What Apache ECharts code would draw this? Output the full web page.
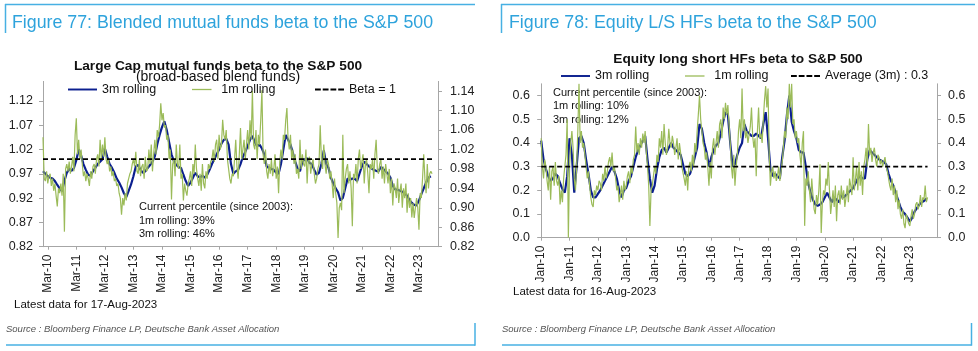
<!DOCTYPE html>
<html>
<head>
<meta charset="utf-8">
<script src="https://cdn.jsdelivr.net/npm/echarts@6/dist/echarts.min.js"></script>
<style>
  html, body { margin: 0; padding: 0; background: #fff; }
  #chart { width: 978px; height: 351px; }
</style>
</head>
<body>
<div id="chart"></div>
<script>
const FONT = '"Liberation Sans", Arial, sans-serif';

// Figure 77 - large cap mutual funds, month index 0 = Jan-2010
// 3m rolling, one value per month
const mf3m = [
  0.975, 0.97, 0.965, 0.962, 0.96, 0.955, 0.947, 0.94, 0.934, 0.955, 0.972, 0.98,
  0.976, 0.982, 0.998, 1.02, 1.008, 0.99, 0.978, 0.968, 0.966, 0.975, 0.982, 0.99,
  0.995, 1.0, 1.022, 1.005, 0.99, 0.982, 0.972, 0.96, 0.952, 0.942, 0.93, 0.922,
  0.935, 0.948, 0.965, 0.985, 0.988, 0.978, 0.972, 0.975, 0.982, 0.988, 0.995, 1.006,
  1.03, 1.05, 1.066, 1.078, 1.06, 1.035, 1.01, 0.996, 0.988, 0.984, 0.982, 0.968,
  0.955, 0.945, 0.952, 0.962, 0.972, 0.965, 0.962, 0.966, 0.962, 0.968, 0.978, 0.99,
  1.0, 1.01, 1.02, 1.032, 1.04, 1.042, 1.03, 0.99, 0.97, 0.975, 0.978, 0.99,
  1.005, 1.015, 1.027, 1.04, 1.048, 1.035, 1.027, 1.03, 1.022, 1.01, 0.985, 0.982,
  0.98, 0.978, 0.972, 0.97, 0.99, 1.02, 1.05, 1.04, 1.03, 1.013, 0.995, 0.98,
  0.975, 0.995, 1.0, 1.002, 0.992, 0.99, 0.978, 0.968, 0.972, 0.99, 1.018, 0.99,
  0.982, 0.962, 0.95, 0.94, 0.932, 0.915, 0.92, 0.94, 0.96, 0.958, 0.96, 0.96,
  0.955, 0.97, 0.985, 0.995, 0.99, 0.985, 0.981, 0.978, 0.976, 0.975, 0.984, 0.98,
  0.975, 0.97, 0.962, 0.945, 0.938, 0.937, 0.935, 0.933, 0.93, 0.925, 0.916, 0.91,
  0.906, 0.905, 0.915, 0.928, 0.94, 0.952, 0.962, 0.965
];
// 1m rolling, two values per month
const mf1m = [
  1.045, 0.96, 0.955, 0.975, 0.95, 0.965, 0.97, 0.945, 0.96, 0.935, 0.95, 0.925, 0.903, 0.94, 0.93, 0.95, 0.925, 0.97, 0.851, 0.98, 0.99, 0.975, 0.995, 0.97,
  0.985, 1.005, 0.975, 1.05, 1.084, 1.01, 1.04, 1.0, 1.02, 0.99, 0.965, 0.975, 0.955, 0.97, 0.96, 0.945, 0.975, 0.96, 0.985, 0.99, 0.97, 1.0, 1.01, 0.985,
  1.04, 1.0, 1.03, 1.005, 1.045, 1.0, 0.99, 1.0, 0.975, 0.985, 0.965, 0.975, 0.955, 0.96, 0.945, 0.95, 0.93, 0.92, 0.886, 0.92, 0.905, 0.93, 0.915, 0.95,
  0.96, 0.97, 0.975, 0.99, 1.0, 0.985, 1.015, 0.975, 0.97, 1.0, 0.965, 0.985, 0.99, 0.96, 1.005, 0.975, 0.98, 1.02, 0.99, 1.03, 0.975, 1.01, 1.04, 1.01,
  1.06, 1.045, 1.07, 1.115, 1.08, 1.095, 1.065, 1.07, 1.04, 1.05, 1.0, 1.02, 0.917, 0.99, 1.0, 0.965, 1.03, 0.99, 0.98, 1.03, 0.96, 0.97, 0.915, 0.95,
  0.935, 0.925, 0.95, 0.96, 0.975, 0.945, 0.99, 0.97, 1.03, 0.98, 0.96, 0.945, 0.97, 0.935, 0.99, 0.95, 0.94, 0.975, 0.96, 0.99, 0.98, 0.995, 1.0, 1.02,
  0.995, 1.03, 1.04, 1.0, 1.05, 1.02, 1.03, 1.081, 1.05, 1.04, 1.06, 1.0, 0.98, 0.96, 0.95, 0.97, 0.965, 1.0, 1.04, 0.985, 0.96, 1.01, 1.064, 1.0,
  1.02, 1.04, 1.0, 1.03, 1.06, 1.02, 1.08, 1.04, 1.14, 1.03, 1.02, 1.06, 1.0, 1.05, 1.03, 1.08, 1.142, 1.01, 0.99, 1.02, 0.975, 0.96, 0.99, 0.97,
  1.0, 0.965, 0.98, 1.01, 0.96, 0.985, 0.93, 0.995, 1.02, 1.0, 1.05, 1.04, 1.08, 1.105, 1.04, 1.02, 1.05, 1.0, 1.02, 0.99, 1.01, 0.97, 0.98, 0.96,
  1.04, 0.98, 1.01, 0.99, 0.985, 1.02, 0.95, 1.0, 1.005, 0.97, 0.99, 1.0, 0.97, 0.95, 0.96, 0.98, 0.99, 1.07, 1.0, 0.98, 1.03, 0.99, 0.97, 1.0,
  0.99, 0.96, 0.975, 0.95, 0.92, 0.96, 0.93, 0.91, 0.838, 0.9, 0.91, 0.895, 1.05, 0.93, 0.96, 0.98, 0.99, 0.95, 0.975, 0.94, 0.862, 0.97, 0.96, 0.99,
  0.95, 1.0, 1.02, 0.98, 0.995, 1.01, 0.95, 0.99, 1.0, 0.97, 0.93, 0.99, 0.98, 1.0, 0.96, 1.01, 1.04, 0.98, 0.97, 0.99, 1.0, 0.96, 0.985, 0.95,
  0.99, 0.97, 0.95, 0.98, 0.93, 0.96, 0.905, 0.95, 0.94, 0.92, 0.96, 0.91, 0.935, 0.95, 0.9, 0.94, 0.92, 0.95, 0.89, 0.93, 0.9, 0.92, 0.88, 0.91,
  0.879, 0.9, 0.92, 0.9, 0.855, 0.93, 0.92, 0.96, 1.01, 0.96, 0.93, 0.99, 0.94, 0.97, 0.975, 0.97
];
const mfBeta = 1;
const mfTickMonths = [2, 14, 26, 38, 50, 62, 74, 86, 98, 110, 122, 134, 146, 158];
const mfTickLabels = ['Mar-10', 'Mar-11', 'Mar-12', 'Mar-13', 'Mar-14', 'Mar-15', 'Mar-16',
  'Mar-17', 'Mar-18', 'Mar-19', 'Mar-20', 'Mar-21', 'Mar-22', 'Mar-23'];

// Figure 78 - equity long/short hedge funds, month index 0 = Jan-2010
const hf3m = [
  0.41, 0.33, 0.29, 0.26, 0.24, 0.25, 0.27, 0.26, 0.23, 0.205, 0.19, 0.26,
  0.42, 0.35, 0.19, 0.3, 0.42, 0.43, 0.4, 0.33, 0.27, 0.2, 0.17, 0.17,
  0.185, 0.2, 0.22, 0.24, 0.26, 0.28, 0.3, 0.28, 0.25, 0.2, 0.17, 0.2,
  0.21, 0.24, 0.26, 0.3, 0.34, 0.37, 0.39, 0.41, 0.43, 0.33, 0.25, 0.19,
  0.22, 0.29, 0.34, 0.37, 0.38, 0.36, 0.38, 0.4, 0.38, 0.37, 0.36, 0.35,
  0.31, 0.27, 0.26, 0.27, 0.3, 0.34, 0.38, 0.48, 0.46, 0.4, 0.36, 0.3,
  0.34, 0.37, 0.39, 0.4, 0.44, 0.49, 0.53, 0.52, 0.4, 0.3, 0.31, 0.35,
  0.38, 0.4, 0.48, 0.45, 0.44, 0.43, 0.43, 0.44, 0.43, 0.42, 0.48, 0.53,
  0.42, 0.29, 0.26, 0.27, 0.26, 0.25, 0.34, 0.41, 0.52, 0.6, 0.49, 0.45,
  0.42, 0.37, 0.36, 0.36, 0.3, 0.23, 0.19, 0.16, 0.14, 0.135, 0.14, 0.15,
  0.17, 0.19, 0.17, 0.15, 0.17, 0.16, 0.15, 0.18, 0.17, 0.18, 0.19, 0.2,
  0.21, 0.23, 0.25, 0.26, 0.25, 0.25, 0.33, 0.37, 0.36, 0.35, 0.34, 0.33,
  0.325, 0.32, 0.31, 0.27, 0.24, 0.22, 0.19, 0.16, 0.13, 0.11, 0.1, 0.085,
  0.068, 0.085, 0.11, 0.125, 0.14, 0.15, 0.155, 0.165
];
const hf1m = [
  0.42, 0.3, 0.25, 0.33, 0.3, 0.24, 0.2, 0.3, 0.16, 0.28, 0.3, 0.22, 0.32, 0.24, 0.22, 0.26, 0.14, 0.2, 0.15, 0.25, 0.3, 0.35, 0.5, 0.0,
  0.3, 0.4, 0.45, 0.38, 0.25, 0.2, 0.3, 0.45, 0.65, 0.4, 0.45, 0.38, 0.4, 0.35, 0.3, 0.25, 0.28, 0.22, 0.17, 0.14, 0.13, 0.2, 0.18, 0.22,
  0.2, 0.24, 0.23, 0.2, 0.27, 0.24, 0.3, 0.25, 0.28, 0.32, 0.34, 0.3, 0.36, 0.28, 0.3, 0.25, 0.2, 0.22, 0.15, 0.18, 0.22, 0.16, 0.24, 0.2,
  0.22, 0.26, 0.28, 0.23, 0.3, 0.27, 0.33, 0.35, 0.47, 0.36, 0.4, 0.35, 0.42, 0.38, 0.44, 0.4, 0.45, 0.36, 0.3, 0.22, 0.05, 0.2, 0.22, 0.26,
  0.3, 0.27, 0.35, 0.32, 0.42, 0.38, 0.45, 0.35, 0.48, 0.4, 0.35, 0.38, 0.46, 0.4, 0.38, 0.43, 0.4, 0.35, 0.38, 0.42, 0.33, 0.4, 0.36, 0.3,
  0.3, 0.25, 0.22, 0.28, 0.2, 0.3, 0.32, 0.28, 0.35, 0.3, 0.4, 0.36, 0.45, 0.52, 0.6, 0.5, 0.45, 0.4, 0.38, 0.33, 0.36, 0.3, 0.22, 0.32,
  0.25, 0.38, 0.42, 0.35, 0.4, 0.45, 0.38, 0.48, 0.5, 0.42, 0.55, 0.5, 0.57, 0.52, 0.56, 0.48, 0.4, 0.3, 0.25, 0.35, 0.22, 0.3, 0.35, 0.45,
  0.5, 0.42, 0.63, 0.45, 0.5, 0.42, 0.45, 0.4, 0.4, 0.47, 0.55, 0.43, 0.38, 0.42, 0.26, 0.45, 0.55, 0.42, 0.44, 0.4, 0.5, 0.58, 0.64, 0.55,
  0.63, 0.35, 0.22, 0.28, 0.3, 0.25, 0.28, 0.24, 0.26, 0.3, 0.24, 0.28, 0.32, 0.38, 0.45, 0.42, 0.55, 0.5, 0.65, 0.55, 0.65, 0.48, 0.5, 0.42,
  0.45, 0.4, 0.42, 0.35, 0.3, 0.4, 0.45, 0.05, 0.25, 0.22, 0.28, 0.2, 0.15, 0.25, 0.18, 0.12, 0.1, 0.18, 0.14, 0.2, 0.31, 0.02, 0.15, 0.2,
  0.18, 0.25, 0.22, 0.32, 0.2, 0.1, 0.15, 0.2, 0.13, 0.22, 0.07, 0.18, 0.2, 0.14, 0.22, 0.16, 0.2, 0.13, 0.17, 0.22, 0.15, 0.25, 0.22, 0.18,
  0.34, 0.2, 0.25, 0.3, 0.2, 0.32, 0.22, 0.28, 0.18, 0.3, 0.33, 0.38, 0.3, 0.48, 0.35, 0.38, 0.32, 0.36, 0.38, 0.33, 0.3, 0.35, 0.34, 0.31,
  0.33, 0.3, 0.32, 0.34, 0.3, 0.28, 0.25, 0.22, 0.2, 0.25, 0.18, 0.22, 0.15, 0.2, 0.12, 0.16, 0.1, 0.08, 0.12, 0.06, 0.04, 0.1, 0.08, 0.06,
  0.05, 0.09, 0.12, 0.08, 0.1, 0.14, 0.15, 0.12, 0.14, 0.18, 0.13, 0.17, 0.16, 0.22, 0.15, 0.17
];
const hfAverage = 0.3;
const hfTickMonths = [0, 12, 24, 36, 48, 60, 72, 84, 96, 108, 120, 132, 144, 156];
const hfTickLabels = ['Jan-10', 'Jan-11', 'Jan-12', 'Jan-13', 'Jan-14', 'Jan-15', 'Jan-16',
  'Jan-17', 'Jan-18', 'Jan-19', 'Jan-20', 'Jan-21', 'Jan-22', 'Jan-23'];

const BLUE = '#0b1f8f';
const GREEN = '#9bbb59';
const FRAME = '#47b0e3';
const AXIS = '#a6a6a6';

// legend glyphs: plain bar for solid lines, four dashes for the reference line
const SOLID_ICON = 'path://M0,0H30V2H0Z';
const DASH_ICON = 'path://M0,0H6V2H0Z M8,0H14V2H8Z M16,0H22V2H16Z M24,0H30V2H24Z';

const monthly = (arr) => arr.map((v, i) => [i, v]);
const halfMonthly = (arr) => arr.map((v, i) => [i / 2, v]);
const flat = (level, arr) => [[0, level], [(arr.length - 1) / 2, level]];

const names = {
  mf3m: '3m rolling', mf1m: '1m rolling', mfBeta: 'Beta = 1',
  hf3m: '3m rolling', hf1m: '1m rolling', hfAvg: 'Average (3m) : 0.3'
};

function xAxisFor(gridIndex, min, max, months, labels) {
  return {
    type: 'value', gridIndex, min, max,
    axisLine: { show: true, onZero: false, lineStyle: { color: AXIS, width: 1 } },
    axisTick: { show: true, customValues: months, length: 3, lineStyle: { color: AXIS } },
    axisLabel: {
      customValues: months, rotate: 90, margin: 8, color: '#222',
      fontFamily: FONT, fontSize: 12,
      formatter: (v) => labels[months.indexOf(v)] || ''
    },
    splitLine: { show: false }
  };
}

function yAxisFor(gridIndex, position, min, max, interval, digits, margin) {
  return {
    type: 'value', gridIndex, position, min, max, interval,
    axisLine: { show: true, lineStyle: { color: AXIS, width: 1 } },
    axisTick: { show: true, length: 4, lineStyle: { color: AXIS } },
    axisLabel: {
      margin, color: '#222', fontFamily: FONT, fontSize: 12.5, showMaxLabel: false,
      formatter: (v) => v.toFixed(digits)
    },
    splitLine: { show: false }
  };
}

function lineSeries(name, data, xIdx, yIdx, color, width, type) {
  return {
    name, type: 'line', data, xAxisIndex: xIdx, yAxisIndex: yIdx,
    showSymbol: false, symbol: 'none', animation: false, silent: true,
    lineStyle: { color, width, type: type || 'solid' }, itemStyle: { color }
  };
}

function legendFor(name, left, top, icon, thick) {
  return {
    data: [name], left, top, padding: 0, icon, itemWidth: 29, itemHeight: thick,
    selectedMode: false, formatter: (n) => names[n],
    textStyle: { fontFamily: FONT, fontSize: 12.5, color: '#111' }
  };
}

function txt(text, x, y, size, opts) {
  const o = opts || {};
  return {
    type: 'text', x, y, silent: true,
    style: {
      text, fontFamily: FONT, fontSize: size, fontWeight: o.weight || 'normal',
      fontStyle: o.style || 'normal', fill: o.color || '#111',
      align: o.align || 'left', verticalAlign: 'middle'
    }
  };
}

function ln(x1, y1, x2, y2) {
  return { type: 'line', silent: true, shape: { x1, y1, x2, y2 }, style: { stroke: FRAME, lineWidth: 1.5 } };
}

const chart = echarts.init(document.getElementById('chart'), null, { renderer: 'canvas' });

chart.setOption({
  backgroundColor: '#fff',
  animation: false,
  grid: [
    { left: 43, top: 81.4, width: 395, height: 165.3 },
    { left: 540, top: 83.8, width: 397, height: 153.9 }
  ],
  xAxis: [
    xAxisFor(0, 0, 166, mfTickMonths, mfTickLabels),
    xAxisFor(1, -0.5, 167.5, hfTickMonths, hfTickLabels)
  ],
  yAxis: [
    yAxisFor(0, 'left', 0.82, 1.16, 0.05, 2, 10),
    yAxisFor(0, 'right', 0.82, 1.16, 0.04, 2, 12),
    yAxisFor(1, 'left', 0, 0.65, 0.1, 1, 10),
    yAxisFor(1, 'right', 0, 0.65, 0.1, 1, 11)
  ],
  legend: [
    legendFor('mf3m', 68, 83, SOLID_ICON, 2.2),
    legendFor('mf1m', 192, 83, SOLID_ICON, 1.3),
    legendFor('mfBeta', 315, 83, DASH_ICON, 2),
    legendFor('hf3m', 561, 69.5, SOLID_ICON, 2.2),
    legendFor('hf1m', 685, 69.5, SOLID_ICON, 1.3),
    legendFor('hfAvg', 791, 69.5, DASH_ICON, 2)
  ],
  series: [
    lineSeries('mf3m', monthly(mf3m), 0, 0, BLUE, 2.2),
    lineSeries('mf1m', halfMonthly(mf1m), 0, 0, GREEN, 1.2),
    lineSeries('mfBeta', flat(mfBeta, mf1m), 0, 0, '#000', 1.8, [5, 3]),
    lineSeries('hf3m', monthly(hf3m), 1, 2, BLUE, 2.2),
    lineSeries('hf1m', halfMonthly(hf1m), 1, 2, GREEN, 1.2),
    lineSeries('hfAvg', flat(hfAverage, hf1m), 1, 2, '#000', 1.8, [5, 3])
  ],
  graphic: [
    // panel frames
    ln(5, 4.5, 475, 4.5), ln(5.5, 4, 5.5, 33),
    ln(6, 345, 475, 345), ln(475, 323, 475, 345.7),
    ln(501, 4.5, 975, 4.5), ln(501.5, 4, 501.5, 33),
    ln(502, 345, 971.5, 345), ln(971.5, 323, 971.5, 345.7),
    // figure headings
    txt('Figure 77: Blended mutual funds beta to the S&P 500', 12, 23, 17.8, { color: '#2ea3dc' }),
    txt('Figure 78: Equity L/S HFs beta to the S&P 500', 509, 23, 17.8, { color: '#2ea3dc' }),
    // chart titles
    txt('Large Cap mutual funds beta to the S&P 500', 218, 66, 13.7, { weight: 'bold', align: 'center' }),
    txt('(broad-based blend funds)', 218, 77.5, 14, { align: 'center' }),
    txt('Equity long short HFs beta to S&P 500', 738, 59.5, 13.7, { weight: 'bold', align: 'center' }),
    // annotations
    txt('Current percentile (since 2003):', 139, 207, 11),
    txt('1m rolling: 39%', 139, 220.5, 11),
    txt('3m rolling: 46%', 139, 234, 11),
    txt('Current percentile (since 2003):', 553, 92.5, 11),
    txt('1m rolling: 10%', 553, 106, 11),
    txt('3m rolling: 12%', 553, 119.5, 11),
    txt('Latest data for 17-Aug-2023', 14, 304.5, 11.5),
    txt('Latest data for 16-Aug-2023', 513, 291.5, 11.5),
    // sources
    txt('Source : Bloomberg Finance LP, Deutsche Bank Asset Allocation', 6, 329.5, 9.5, { style: 'italic', color: '#555' }),
    txt('Source : Bloomberg Finance LP, Deutsche Bank Asset Allocation', 502, 329.5, 9.5, { style: 'italic', color: '#555' })
  ]
});
</script>
</body>
</html>
